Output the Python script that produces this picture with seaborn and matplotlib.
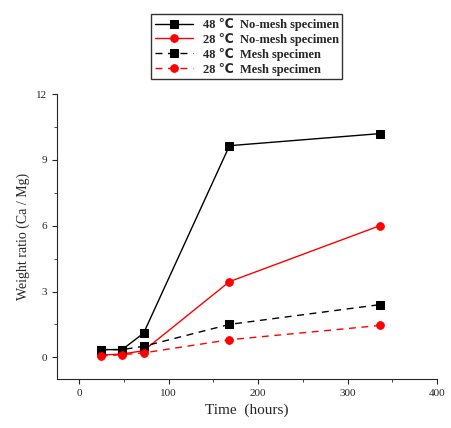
import matplotlib
matplotlib.use("Agg")
import matplotlib.pyplot as plt
import seaborn as sns
import pandas as pd
from matplotlib.ticker import MultipleLocator

time_h = [24, 48, 72, 168, 336]
nomesh_48 = [0.35, 0.35, 1.1, 9.65, 10.2]
nomesh_28 = [0.1, 0.15, 0.3, 3.45, 6.0]
mesh_48 = [0.35, 0.35, 0.5, 1.5, 2.4]
mesh_28 = [0.05, 0.12, 0.2, 0.8, 1.45]
labels = ["48 ℃  No-mesh specimen", "28 ℃  No-mesh specimen",
          "48 ℃  Mesh specimen", "28 ℃  Mesh specimen"]

sns.set_style("ticks")
plt.rcParams['font.family'] = ['Liberation Serif', 'DejaVu Sans']

fig = plt.figure(figsize=(4.51, 4.28), dpi=100)
ax = fig.add_axes([0.126, 0.114, 0.843, 0.666])
styles = [("black", "-", "s"), ("red", "-", "o"), ("black", (0, (5, 4)), "s"), ("red", (0, (5, 4)), "o")]
for ys, lab, (c, ls, m) in zip([nomesh_48, nomesh_28, mesh_48, mesh_28], labels, styles):
    df = pd.DataFrame({"t": time_h, "y": ys})
    sns.lineplot(data=df, x="t", y="y", ax=ax, color=c, linestyle=ls, marker=m,
                 markersize=5.5, markeredgecolor=c, linewidth=1, label=lab)
ax.set_xlim(-25, 400)
ax.set_ylim(-1, 12)
ax.set_xticks([0, 100, 200, 300, 400])
ax.set_yticks([0, 3, 6, 9, 12])
ax.xaxis.set_minor_locator(MultipleLocator(50))
ax.yaxis.set_minor_locator(MultipleLocator(1.5))
ax.tick_params(labelsize=8, direction="out")
ax.set_xlabel("Time  (hours)", fontsize=11)
ax.set_ylabel("Weight ratio (Ca / Mg)", fontsize=10)
sns.despine(ax=ax)
leg = ax.legend(loc="lower center", bbox_to_anchor=(0.5, 1.03), fontsize=9,
                frameon=True, fancybox=False, edgecolor="black", borderpad=0.3,
                labelspacing=0.15, handlelength=3, prop={"weight": "bold", "size": 9})
fig.savefig("out.png", dpi=100)
